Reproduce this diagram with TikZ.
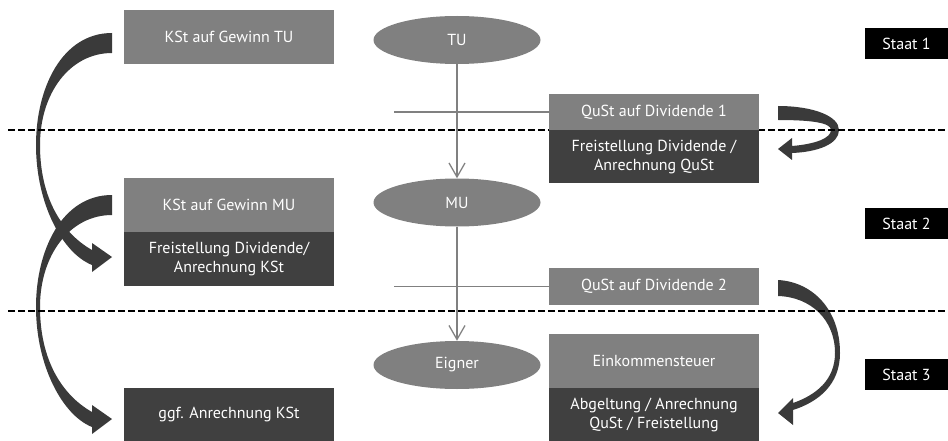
\documentclass[tikz,border=0pt]{standalone}
\usepackage{fontspec}
\setmainfont{PT Sans}
\usepackage{tikz}
\usetikzlibrary{arrows.meta,positioning,shapes.geometric,backgrounds}
\definecolor{boxlight}{HTML}{808080}
\definecolor{boxdark}{HTML}{404040}
\definecolor{bandfill}{HTML}{3A3A3A}
\newcommand{\mainsize}{\fontsize{16}{19}\selectfont}

\begin{document}
\begin{tikzpicture}[
    x=1pt, y=-1pt,
    lightbox/.style={rectangle, fill=boxlight, text=white, minimum width=210pt,
                     inner sep=0pt, align=center, font=\mainsize},
    darkbox/.style={lightbox, fill=boxdark},
    entity/.style={ellipse, fill=boxlight, text=white, minimum width=167pt,
                   minimum height=48pt, inner sep=0pt, font=\mainsize},
    statebox/.style={rectangle, fill=black, text=white, minimum width=83pt,
                     minimum height=31pt, inner sep=0pt, font=\mainsize},
    flow/.style={draw=boxlight, line width=1.3pt},
    flowarr/.style={flow, -{Straight Barb[length=14pt, width=16pt]}},
    border/.style={line width=1.5pt, dash pattern=on 7pt off 3pt},
    % wide curved arrows
    bigcurve/.pic={
      \fill[bandfill] (0,0) .. controls (-50,0) and (-76,55) .. (-76,112)
        .. controls (-76,170) and (-50,220) .. (-20,232)
        -- (-20,239) -- (0,224) -- (-20,210) -- (-20,217)
        .. controls (-50,200) and (-72,165) .. (-72,112)
        .. controls (-72,60) and (-42,20) .. (0,20) -- cycle;},
    uturn/.pic={
      \fill[bandfill] (0,0) .. controls (35,0) and (61,10) .. (61,24)
        .. controls (61,38) and (40,46) .. (14,47)
        -- (14,54) -- (0,43) -- (14,32) -- (14,40)
        .. controls (38,38) and (53,32) .. (53,24)
        .. controls (53,17) and (35,14) .. (0,14) -- cycle;},
    sidecurve/.pic={
      \fill[bandfill] (0,0) .. controls (35,2) and (62,30) .. (62,73)
        .. controls (62,105) and (40,122) .. (15,130)
        -- (15,145) -- (0,133) -- (15,118) -- (15,123)
        .. controls (38,115) and (57,100) .. (57,73)
        .. controls (57,40) and (33,17) .. (0,16) -- cycle;},
  ]
    \useasboundingbox (0,0) rectangle (948,441);

    % Left column: corporate tax
    \node[lightbox, minimum height=54pt] (ksttu) at (229,37) {KSt auf Gewinn TU};
    \node[lightbox, minimum height=54pt] (kstmu) at (229,205) {KSt auf Gewinn MU};
    \node[darkbox, minimum height=54pt, below=0pt of kstmu] (freimu)
      {Freistellung Dividende/\\Anrechnung KSt};
    \node[darkbox, minimum height=53pt] (ggfkst) at (229,414.5) {ggf. Anrechnung KSt};

    % Middle: entities
    \node[entity] (tu) at (457,40) {TU};
    \node[entity] (mu) at (457,202.5) {MU};
    \node[entity] (eigner) at (457,365) {Eigner};

    % Right column: withholding tax
    \node[lightbox, minimum height=36pt] (qust1) at (654,112) {QuSt auf Dividende 1};
    \node[darkbox, minimum height=53pt, below=0pt of qust1] (frei1)
      {Freistellung Dividende /\\Anrechnung QuSt};
    \node[lightbox, minimum height=37pt] (qust2) at (654,286.5) {QuSt auf Dividende 2};
    \node[lightbox, minimum height=54pt] (einkst) at (654,361) {Einkommensteuer};
    \node[darkbox, minimum height=53pt, below=0pt of einkst] (abgelt)
      {Abgeltung / Anrechnung\\QuSt / Freistellung};

    % State labels
    \node[statebox] (staat1) at (906.5,43.5) {Staat 1};
    \node[statebox] (staat2) at (906.5,223.5) {Staat 2};
    \node[statebox] (staat3) at (906.5,374.5) {Staat 3};

    % Dividend flow
    \draw[flowarr] (tu) -- (mu);
    \draw[flowarr] (mu) -- (eigner);
    \coordinate (tap1) at (394,112);
    \coordinate (tap2) at (394,286.5);
    \draw[flow] (tap1) -- (qust1.west);
    \draw[flow] (tap2) -- (qust2.west);

    \begin{scope}[on background layer]
      % Curved arrows
      \pic at (112,195) {bigcurve};
      \pic at (112,33) {bigcurve};
      \pic at (778,106) {uturn};
      \pic at (778,280) {sidecurve};
      % State borders
      \coordinate (b1l) at (8,130);
      \coordinate (b1r) at (948,130);
      \coordinate (b2l) at (8,311);
      \coordinate (b2r) at (948,311);
      \draw[border] (b1l) -- (b1r);
      \draw[border] (b2l) -- (b2r);
    \end{scope}
  \end{tikzpicture}
\end{document}
